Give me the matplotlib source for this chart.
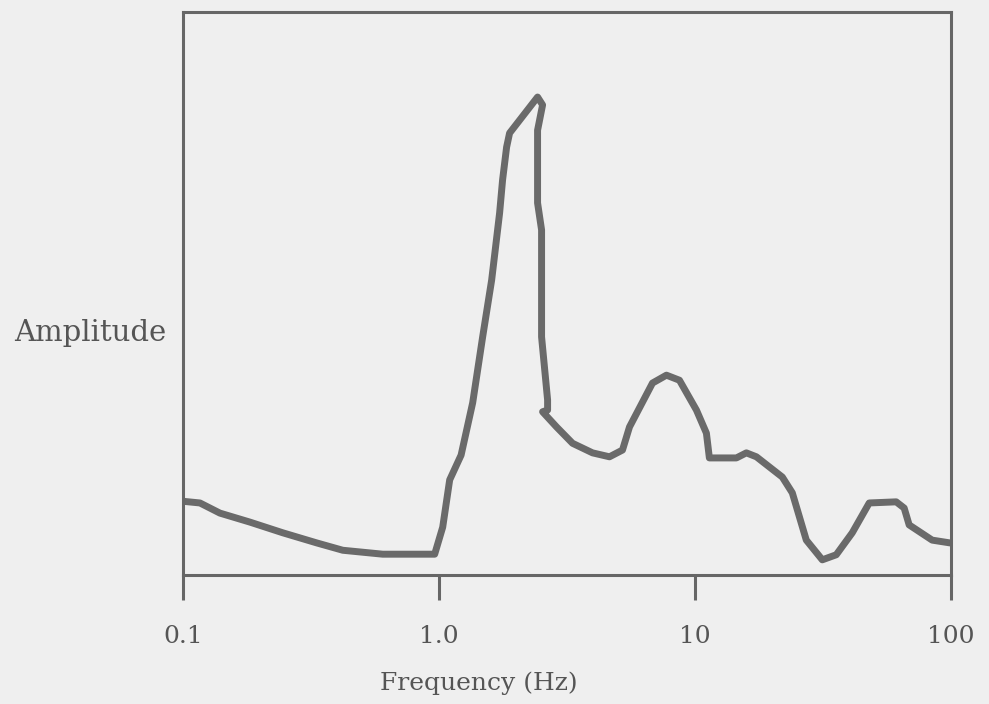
import matplotlib.pyplot as plt

# valores (frequencia em Hz, amplitude em unidades arbitrarias)
freq = [0.1, 0.1165, 0.1394, 0.1826, 0.2455, 0.3333, 0.421, 0.603, 0.962,
        1.034, 1.101, 1.22, 1.354, 1.481, 1.606, 1.725, 1.772, 1.837, 1.887,
        2.427, 2.539, 2.427, 2.427, 2.516, 2.516, 2.516, 2.656, 2.656, 2.539,
        2.879, 3.324, 3.979, 4.634, 5.209, 5.548, 6.823, 7.734, 8.695, 10.13,
        11.08, 11.38, 14.51, 15.87, 17.37, 21.93, 23.99, 27.21, 31.42, 35.62,
        41.13, 47.92, 61.07, 65.61, 68.63, 84.4, 99.2]
amplitude = [0.131, 0.128, 0.110, 0.094, 0.075, 0.057, 0.044, 0.037, 0.037,
             0.085, 0.169, 0.213, 0.306, 0.423, 0.524, 0.643, 0.702, 0.760, 0.785,
             0.849, 0.835, 0.790, 0.661, 0.613, 0.524, 0.423, 0.311, 0.293, 0.290,
             0.263, 0.234, 0.217, 0.210, 0.222, 0.263, 0.341, 0.355, 0.346, 0.293,
             0.252, 0.208, 0.208, 0.217, 0.210, 0.174, 0.146, 0.062, 0.027, 0.036,
             0.075, 0.128, 0.130, 0.119, 0.089, 0.062, 0.057]

xticks = [0.1, 1.0, 10, 100]
xtick_labels = ['0.1', '1.0', '10', '100']

cor_fundo = '#efefef'
cor_linha = '#666666'
cor_texto = '#555555'
fonte = ['DejaVu Serif']

fig = plt.figure(figsize=(9.89, 7.04), dpi=100, facecolor=cor_fundo)
ax = fig.add_axes([0.185, 0.1832, 0.7766, 0.7997], facecolor=cor_fundo)

ax.plot(freq, amplitude, color='#6a6a6a', linewidth=5, solid_joinstyle='round',
        solid_capstyle='round')

ax.set_xscale('log')
ax.set_xlim(0.1, 100)
ax.set_ylim(0, 1)

for lado in ax.spines.values():
    lado.set_color(cor_linha)
    lado.set_linewidth(2.2)

ax.set_yticks([])
ax.set_xticks(xticks)
ax.set_xticklabels(xtick_labels, family=fonte, fontsize=18, color=cor_texto)
ax.xaxis.set_minor_locator(plt.NullLocator())
ax.tick_params(axis='x', direction='out', length=18, width=2.2, color=cor_linha, pad=18)

ax.set_xlabel('Frequency (Hz)', family=fonte, fontsize=18, color=cor_texto)
ax.xaxis.set_label_coords(0.385, -0.172)

fig.text(0.091, 0.527, 'Amplitude', family=fonte, fontsize=21, color=cor_texto,
         ha='center', va='center')

plt.savefig('out.png', dpi=100, facecolor=cor_fundo)
